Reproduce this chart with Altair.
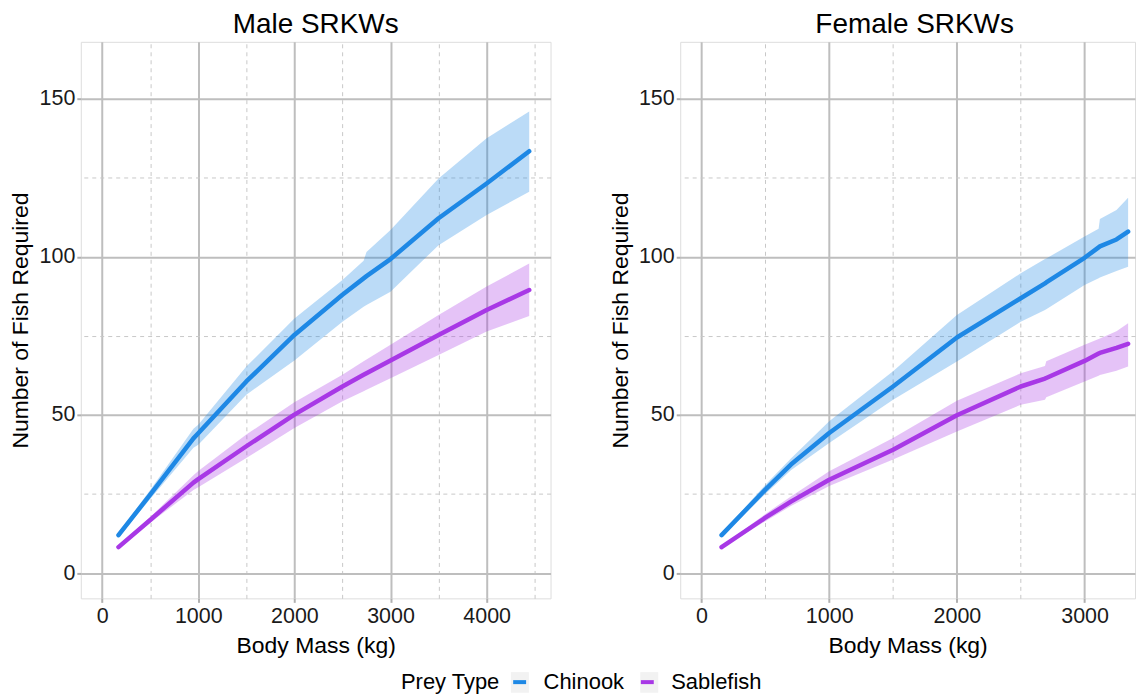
import altair as alt
import pandas as pd

FONT = "Liberation Sans"

prey_types = ["Chinook", "Sablefish"]
line_colors = ["#1E88E5", "#A838E6"]

# ---- Male SRKWs ----
male_mass = [170, 500, 950, 1000, 1500, 2000, 2500, 2720, 2750, 3000, 3500, 4000, 4443]
male_chinook_mean = [12.0, 24.8, 42.6, 44.2, 60.6, 75.3, 88.0, 93.2, 93.9, 99.3, 112.2, 123.2, 133.4]
male_chinook_lo = [11.3, 23.4, 39.6, 40.6, 56.4, 67.2, 79.5, 84.2, 84.8, 89.0, 103.7, 113.2, 120.6]
male_chinook_hi = [12.7, 26.3, 45.6, 46.9, 65.3, 80.5, 92.7, 98.8, 101.5, 108.5, 124.8, 137.5, 146.0]
male_sable_mean = [8.2, 16.8, 28.6, 29.7, 40.1, 50.1, 59.0, 62.7, 63.2, 67.2, 75.3, 83.2, 89.5]
male_sable_lo = [7.8, 15.9, 26.3, 27.1, 36.4, 45.9, 54.3, 57.5, 58.0, 61.6, 69.0, 76.4, 81.3]
male_sable_hi = [8.6, 17.7, 30.9, 32.3, 43.8, 54.0, 62.7, 67.0, 67.5, 72.2, 81.6, 90.6, 97.9]

# ---- Female SRKWs ----
female_mass = [157, 500, 700, 1000, 1500, 2000, 2500, 2690, 2700, 3000, 3110, 3120, 3250, 3341]
female_chinook_mean = [12.0, 26.4, 34.3, 44.3, 59.0, 74.5, 86.9, 91.6, 91.9, 99.7, 103.0, 103.3, 105.5, 108.0]
female_chinook_lo = [11.5, 25.0, 32.5, 41.1, 54.8, 66.9, 79.5, 83.2, 83.4, 91.1, 93.2, 93.5, 95.5, 96.9]
female_chinook_hi = [12.5, 27.9, 36.2, 48.0, 63.8, 81.6, 94.8, 99.3, 99.5, 106.4, 108.9, 112.0, 114.8, 118.7]
female_sable_mean = [8.2, 17.5, 22.6, 29.5, 39.0, 49.9, 59.0, 61.5, 61.7, 67.1, 69.4, 69.6, 71.2, 72.5]
female_sable_lo = [7.9, 16.4, 21.2, 27.5, 35.9, 44.8, 53.2, 54.8, 55.6, 60.6, 62.4, 62.6, 64.0, 65.3]
female_sable_hi = [8.5, 18.7, 24.2, 32.2, 42.7, 54.5, 63.2, 65.5, 67.0, 72.2, 74.0, 74.2, 76.5, 79.0]

y_major = [0, 50, 100, 150]
y_minor = [25, 75, 125]
male_x_major = [0, 1000, 2000, 3000, 4000]
male_x_minor = [500, 1500, 2500, 3500, 4500]
female_x_major = [0, 1000, 2000, 3000]
female_x_minor = [500, 1500, 2500, 3500]


def make_df(mass, series):
    rows = []
    for prey, (mean, lo, hi) in series.items():
        for m, a, b, c in zip(mass, mean, lo, hi):
            rows.append({"mass": m, "prey": prey, "key": prey, "mean": a, "lo": b, "hi": c})
    return pd.DataFrame(rows)


male_df = make_df(male_mass, {
    "Chinook": (male_chinook_mean, male_chinook_lo, male_chinook_hi),
    "Sablefish": (male_sable_mean, male_sable_lo, male_sable_hi),
})
female_df = make_df(female_mass, {
    "Chinook": (female_chinook_mean, female_chinook_lo, female_chinook_hi),
    "Sablefish": (female_sable_mean, female_sable_lo, female_sable_hi),
})

GRID = "#BEBEBE"
MINOR = "#C8C8C8"
TICK = "#B0B0B0"
KEY_BG = "#F2F2F2"
SQUARE = "M-1,-1.15H1V1.15H-1Z"

LEG_X = 321
LEG_Y = 631
TITLE_W = 100.25   # width of "Prey Type" at 22px
TITLE_PAD = 8
COL_PAD = 8
CHINOOK_W = 80.7   # width of "Chinook" at 22px

y_scale = alt.Scale(domain=[-8, 168], nice=False, zero=False)
stroke_scale = alt.Scale(range=line_colors)
fill_scale = alt.Scale(range=line_colors)
shape_scale = alt.Scale(domain=prey_types, range=[SQUARE, SQUARE])

line_legend = alt.Legend(
    title="Prey Type", orient="none", legendX=LEG_X, legendY=LEG_Y,
    direction="horizontal", titleOrient="left", symbolSize=324,
    symbolType="M-0.72,0H0.72", symbolStrokeWidth=4, zindex=2,
    labelFontSize=22, titleFontSize=22, labelFont=FONT, titleFont=FONT,
    titleFontWeight="normal", labelColor="black", titleColor="black",
    labelOffset=13, columnPadding=COL_PAD, titlePadding=TITLE_PAD, padding=0,
)
key_legend = alt.Legend(
    title=None, orient="none", legendX=LEG_X + TITLE_W + TITLE_PAD, legendY=LEG_Y,
    direction="horizontal", symbolSize=324, labelExpr="''",
    symbolFillColor=KEY_BG, symbolStrokeColor="transparent", symbolStrokeWidth=4,
    symbolOpacity=1, zindex=1, labelFontSize=22, labelFont=FONT,
    labelOffset=13, columnPadding=COL_PAD + CHINOOK_W, padding=0,
)


def panel(df, title, xdomain, width, xmajor, xminor, title_dx):
    base = alt.Chart(df)
    xs = alt.Scale(domain=xdomain, nice=False, zero=False)
    x_axis = alt.Axis(
        values=xmajor, title="Body Mass (kg)", format="d", grid=True,
        gridColor=GRID, gridWidth=2, tickColor=TICK, tickSize=4, tickWidth=2,
        domain=False, labelFontSize=21.5, titleFontSize=23, labelFont=FONT,
        titleFont=FONT, titleFontWeight="normal", labelColor="#1A1A1A",
        titleColor="black", labelPadding=3, titlePadding=8, labelFlush=False,
    )
    y_axis = alt.Axis(
        values=y_major, title="Number of Fish Required", grid=True,
        gridColor=GRID, gridWidth=2, tickColor=TICK, tickSize=4, tickWidth=2,
        domain=False, labelFontSize=21.5, titleFontSize=23, labelFont=FONT,
        titleFont=FONT, titleFontWeight="normal", labelColor="#1A1A1A",
        titleColor="black", labelPadding=2, titlePadding=4,
        minExtent=44, maxExtent=44,
    )
    x_minor_axis = alt.Axis(
        values=xminor, orient="top", grid=True, gridColor=MINOR, gridWidth=1,
        gridDash=[4, 4], labels=False, ticks=False, domain=False, title=None,
        minExtent=0, maxExtent=0, offset=0,
    )
    y_minor_axis = alt.Axis(
        values=y_minor, orient="right", grid=True, gridColor=MINOR, gridWidth=1,
        gridDash=[4, 4], labels=False, ticks=False, domain=False, title=None,
        minExtent=0, maxExtent=0, offset=0,
    )
    band = base.mark_area(opacity=0.3).encode(
        x=alt.X("mass:Q", scale=xs, axis=x_axis),
        y=alt.Y("lo:Q", scale=y_scale, axis=y_axis),
        y2="hi:Q",
        fill=alt.Fill("key:N", scale=fill_scale, legend=None),
    )
    line = base.mark_line(strokeWidth=4.5, strokeCap="round", strokeJoin="round").encode(
        x=alt.X("mass:Q", scale=xs, axis=None),
        y=alt.Y("mean:Q", scale=y_scale, axis=None),
        stroke=alt.Stroke("prey:N", scale=stroke_scale, legend=line_legend),
    )
    minor = base.mark_line(opacity=0).encode(
        x=alt.X("mass:Q", scale=xs, axis=x_minor_axis),
        y=alt.Y("mean:Q", scale=y_scale, axis=y_minor_axis),
        detail="prey:N",
    )
    keys = base.transform_filter("false").mark_point(
        filled=True, color=KEY_BG
    ).encode(
        shape=alt.Shape("key:N", scale=shape_scale, legend=key_legend),
    )
    return alt.layer(minor, band, line, keys).resolve_axis(
        x="independent", y="independent"
    ).properties(
        width=width, height=558,
        title=alt.TitleParams(
            title, fontSize=28, font=FONT, fontWeight="normal", anchor="middle",
            baseline="alphabetic", offset=-19, color="black", dx=title_dx,
        ),
    )


left = panel(male_df, "Male SRKWs", [-222, 4665], 471, male_x_major, male_x_minor, 0)
right = panel(female_df, "Female SRKWs", [-167, 3395], 456, female_x_major, female_x_minor, 7)

chart = alt.hconcat(left, right, spacing=57).properties(
    padding={"left": 1, "top": 1, "right": 0, "bottom": 0}
).configure_view(fill="#EBEBEB", stroke=None).configure(background="white")

chart.save("out.html", embed_options={"renderer": "svg", "actions": False})
